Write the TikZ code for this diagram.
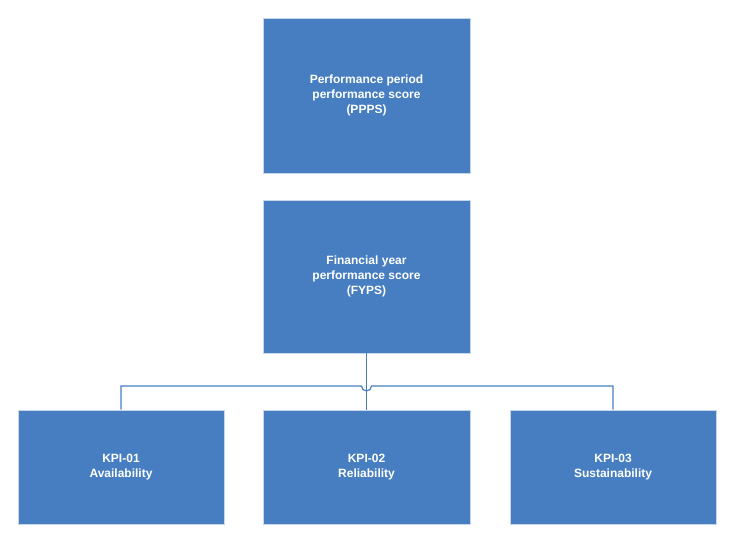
\documentclass[tikz,border=0pt]{standalone}
\usepackage{fontspec}
\setmainfont{Liberation Sans}
\begin{document}
\begin{tikzpicture}[x=1pt,y=-1pt,
  box/.style={draw=white!70!boxc,line width=0.8pt,fill=boxc,text=white,font=\bfseries\fontsize{12pt}{15pt}\selectfont,align=center,inner sep=0pt},
  con/.style={draw=boxc,line width=1.2pt}]
\definecolor{boxc}{RGB}{70,126,193}
\useasboundingbox (0,0) rectangle (735,544);
\node[box,minimum width=207pt,minimum height=155pt] (ppps) at (366.5,95.5) {Performance period\\performance score\\(PPPS)};
\node[box,minimum width=207pt,minimum height=153pt] (fyps) at (366.5,276.5) {Financial year\\performance score\\(FYPS)};
\node[box,minimum width=206pt,minimum height=114pt] (k1) at (121,467) {KPI-01\\Availability};
\node[box,minimum width=207pt,minimum height=114pt] (k2) at (366.5,467) {KPI-02\\Reliability};
\node[box,minimum width=206pt,minimum height=114pt] (k3) at (613,467) {KPI-03\\Sustainability};
\coordinate (h) at (0,386);
\draw[con] (fyps.south) -- (k2.north);
\draw[con] (k1.north) -- (k1.north |- h) -- (361.5,386) arc[start angle=180,end angle=0,radius=5] -- (k3.north |- h) -- (k3.north);
\end{tikzpicture}
\end{document}
